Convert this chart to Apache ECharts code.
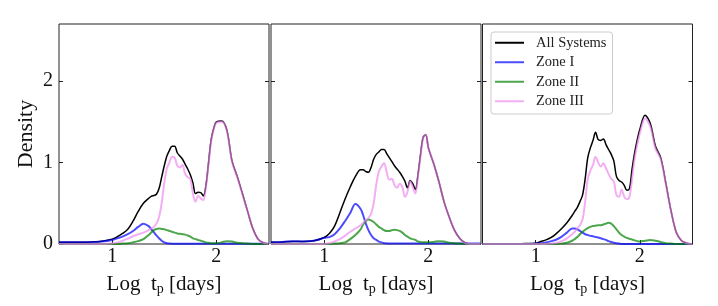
<!DOCTYPE html>
<html><head><meta charset="utf-8">
<script src="https://cdn.jsdelivr.net/npm/echarts@6/dist/echarts.min.js"></script>
<style>html,body{margin:0;padding:0;background:#fff}#c{width:718px;height:306px}</style>
</head><body><div id="c"></div>
<script>
// x grid (Log t_p [days])
const X = [0.49,0.6,0.7,0.8,0.9, 1.0,1.05,1.1,1.15,1.2,1.25,1.3,
  1.35,1.375,1.4,1.425,1.45,1.475,1.5,1.525,1.55,1.575,1.6,1.625,1.65,1.675,1.7,1.725,1.75,1.775,1.8,1.825,1.85,1.875,1.9,1.925,1.95,1.975,2.0,
  2.05,2.1,2.15,2.2,2.25,2.3,2.35,2.4,2.45,2.5];

const seriesNames = ['All Systems','Zone I','Zone II','Zone III'];
const xTicks = [1, 2];
const yTicks = [0, 1, 2];

// Panel 1
const p1All = [0.02,0.02,0.02,0.025,0.035, 0.06,0.09,0.13,0.18,0.28,0.40,0.50,
  0.56,0.585,0.595,0.61,0.68,0.82,0.96,1.08,1.15,1.20,1.20,1.12,1.08,1.04,0.98,0.92,0.85,0.75,0.62,0.635,0.63,0.59,0.72,1.0,1.28,1.42,1.50,
  1.51,1.40,1.02,0.83,0.62,0.40,0.19,0.06,0.015,0.0];
const p1Z1 = [0.02,0.02,0.02,0.02,0.03, 0.05,0.07,0.09,0.12,0.16,0.21,0.25,
  0.22,0.18,0.145,0.105,0.07,0.04,0.02,0.01,0.005,0.004,0.004,0.004,0.004,0.004,0.004,0.004,0.004,0.004,0.004,0.004,0.004,0.004,0.004,0.004,0.004,0.004,0.004,
  0.004,0.004,0.004,0.004,0.004,0.004,0.004,0.004,0.004,0.004];
const p1Z2 = [0,0,0,0,0, 0,0,0.005,0.01,0.02,0.035,0.06,
  0.11,0.14,0.17,0.185,0.19,0.185,0.18,0.17,0.16,0.15,0.14,0.13,0.125,0.12,0.115,0.105,0.09,0.07,0.06,0.05,0.04,0.03,0.02,0.015,0.01,0.01,0.01,
  0.02,0.035,0.03,0.015,0.01,0.005,0,0,0,0];
const p1Z3 = [0,0,0,0,0, 0.01,0.02,0.04,0.065,0.095,0.12,0.14,
  0.17,0.19,0.21,0.25,0.33,0.50,0.75,0.93,1.0,1.07,1.06,0.96,0.94,0.97,0.86,0.82,0.80,0.62,0.52,0.59,0.56,0.54,0.70,0.98,1.26,1.41,1.49,
  1.50,1.39,1.01,0.82,0.61,0.40,0.19,0.06,0.015,0];

// Panel 2
const p2All = [0.02,0.025,0.03,0.03,0.04, 0.08,0.13,0.22,0.38,0.55,0.70,0.83,
  0.91,0.91,0.89,0.88,0.94,1.04,1.10,1.13,1.16,1.16,1.11,1.06,1.01,0.96,0.92,0.88,0.83,0.77,0.69,0.78,0.74,0.67,0.85,1.10,1.31,1.34,1.18,
  0.99,0.77,0.52,0.33,0.17,0.07,0.015,0,0,0];
const p2Z1 = [0.02,0.025,0.035,0.03,0.04, 0.075,0.085,0.12,0.19,0.28,0.38,0.49,
  0.43,0.35,0.25,0.17,0.11,0.07,0.05,0.03,0.02,0.01,0.008,0.005,0.005,0.005,0.005,0.005,0.005,0.005,0.005,0.005,0.005,0.005,0.005,0.005,0.005,0.005,0.005,
  0.005,0.005,0.005,0.005,0.005,0.005,0.005,0.005,0.005,0.005];
const p2Z2 = [0,0,0,0,0, 0,0,0.005,0.01,0.02,0.06,0.11,
  0.18,0.24,0.28,0.30,0.29,0.27,0.24,0.21,0.19,0.17,0.16,0.16,0.17,0.175,0.17,0.16,0.14,0.11,0.09,0.07,0.06,0.05,0.03,0.025,0.02,0.02,0.02,
  0.025,0.035,0.03,0.015,0.01,0.005,0,0,0,0];
const p2Z3 = [0,0,0,0,0, 0,0.01,0.03,0.06,0.10,0.15,0.19,
  0.23,0.26,0.29,0.32,0.37,0.50,0.73,0.89,0.95,0.99,0.88,0.79,0.80,0.72,0.69,0.74,0.70,0.58,0.64,0.77,0.70,0.62,0.83,1.08,1.30,1.34,1.18,
  0.99,0.77,0.52,0.33,0.17,0.07,0.015,0,0,0];

// Panel 3
const p3All = [0,0,0,0,0.005, 0.01,0.03,0.05,0.08,0.13,0.19,0.26,
  0.35,0.40,0.45,0.52,0.60,0.80,1.06,1.18,1.27,1.37,1.28,1.27,1.29,1.22,1.16,1.10,1.02,0.83,0.78,0.76,0.72,0.66,0.68,0.92,1.12,1.28,1.41,
  1.58,1.48,1.20,1.06,0.74,0.40,0.14,0.04,0.01,0];
const p3Z1 = [0,0,0,0,0, 0.005,0.01,0.02,0.035,0.055,0.09,0.14,
  0.19,0.19,0.18,0.16,0.14,0.12,0.11,0.10,0.095,0.085,0.08,0.07,0.06,0.05,0.035,0.025,0.015,0.01,0.005,0,0,0,0,0,0,0,0,
  0,0,0,0,0,0,0,0,0,0];
const p3Z2 = [0,0,0,0,0, 0,0,0,0,0,0.005,0.015,
  0.04,0.06,0.085,0.12,0.15,0.175,0.195,0.21,0.22,0.225,0.23,0.23,0.24,0.25,0.26,0.25,0.22,0.18,0.14,0.11,0.09,0.075,0.065,0.055,0.045,0.035,0.03,
  0.04,0.05,0.04,0.025,0.01,0.005,0,0,0,0];
const p3Z3 = [0,0,0,0,0, 0,0,0,0.005,0.015,0.035,0.07,
  0.12,0.15,0.19,0.23,0.30,0.52,0.80,0.90,0.97,1.07,1.0,0.95,0.99,0.93,0.86,0.80,0.77,0.60,0.58,0.67,0.58,0.55,0.58,0.80,1.05,1.22,1.36,
  1.54,1.44,1.17,1.04,0.73,0.40,0.14,0.04,0.01,0];

const panels = [[p1All,p1Z1,p1Z2,p1Z3],[p2All,p2Z1,p2Z2,p2Z3],[p3All,p3Z1,p3Z2,p3Z3]];
const colors = ['#000000','rgba(0,0,255,0.7)','rgba(0,128,0,0.7)','rgba(238,130,238,0.65)'];
const widths = [1.5,2,2,2];

const FONT = 'Liberation Serif';
const lefts = [59, 271, 482.5];

const grid = lefts.map(l => ({left:l, top:24, width:210, height:220, show:true, borderColor:'#222', borderWidth:1, backgroundColor:'transparent'}));
const xAxis = lefts.map((l,i) => ({
  gridIndex:i, type:'value', min:0.49, max:2.505,
  axisLine:{show:false}, splitLine:{show:false},
  axisTick:{show:true, inside:true, length:4, customValues:xTicks, lineStyle:{color:'#222'}},
  axisLabel:{customValues:xTicks, fontFamily:FONT, fontSize:20, color:'#111', margin:3},
  name:'{a|Log  t}{s|p}{a| [days]}', nameLocation:'middle', nameGap:29,
  nameTextStyle:{rich:{a:{fontFamily:FONT, fontSize:21, color:'#111'}, s:{fontFamily:FONT, fontSize:14, color:'#111', padding:[9,0,0,0]}}}
}));
const yAxis = [];
lefts.forEach((l,i) => {
  yAxis.push({gridIndex:i, type:'value', min:0, max:2.7, position:'left',
    axisLine:{show:false}, splitLine:{show:false},
    axisTick:{show:true, inside:true, length:4, customValues:yTicks, lineStyle:{color:'#222'}},
    axisLabel:{show:i===0, customValues:yTicks, fontFamily:FONT, fontSize:20, color:'#111', margin:6},
    name: i===0 ? 'Density' : '', nameLocation:'middle', nameGap:22, nameRotate:90,
    nameTextStyle:{fontFamily:FONT, fontSize:22, color:'#111'}});
  yAxis.push({gridIndex:i, type:'value', min:0, max:2.7, position:'right',
    axisLine:{show:false}, splitLine:{show:false},
    axisTick:{show:true, inside:true, length:4, customValues:yTicks, lineStyle:{color:'#222'}},
    axisLabel:{show:false}});
});

const series = [];
panels.forEach((arrs,p) => {
  arrs.forEach((arr,k) => {
    series.push({
      name: seriesNames[k], type:'line', xAxisIndex:p, yAxisIndex:2*p,
      data: X.map((x,j) => [x, arr[j]]),
      showSymbol:false, symbol:'none', smooth:0.35, color:colors[k],
      lineStyle:{color:colors[k], width:widths[k]}, z:2+k, silent:true, animation:false
    });
  });
});

const option = {
  animation:false,
  grid, xAxis, yAxis, series,
  legend:{
    data: seriesNames.map(n => ({name:n, icon:'rect'})),
    orient:'vertical', left:491, top:32, selectedMode:false,
    itemWidth:29, itemHeight:2, itemGap:0,
    padding:[1,6,3,4],
    backgroundColor:'rgba(255,255,255,0.85)', borderColor:'#cccccc', borderWidth:1, borderRadius:3,
    textStyle:{fontFamily:FONT, fontSize:14.5, color:'#222', lineHeight:19.5, padding:[0,0,0,7]}
  }
};
const chart = echarts.init(document.getElementById('c'));
chart.setOption(option);
</script></body></html>
